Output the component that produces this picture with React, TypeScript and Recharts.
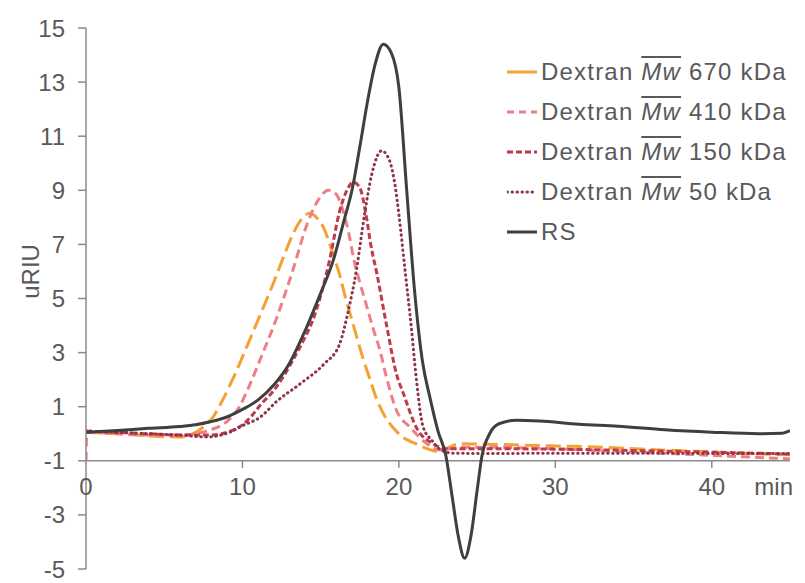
import React from 'react';
import { Legend, Line, LineChart, ReferenceLine, XAxis, YAxis } from 'recharts';

// elution time (min) vs. signal (uRIU)
const xTicks = [0, 10, 20, 30, 40];
const yTicks = [-5, -3, -1, 1, 3, 5, 7, 9, 11, 13, 15];

const dextran670: [number, number][] = [
  [0, 0.05], [2, 0.0], [4, -0.08], [6, -0.12], [7, 0.05], [7.6, 0.3], [8.1, 0.6], [8.6, 1.1],
  [9.2, 1.8], [9.6, 2.3], [10.3, 3.25], [11.1, 4.35], [12, 5.6], [12.6, 6.5], [13.2, 7.35],
  [13.8, 7.95], [14.3, 8.15], [14.8, 7.95], [15.2, 7.6], [15.7, 6.8], [16.2, 5.9], [16.6, 5.0],
  [17.1, 4.0], [17.7, 2.8], [18.1, 2.1], [18.6, 1.25], [19.1, 0.65], [19.6, 0.25], [20.3, -0.15],
  [21, -0.35], [21.8, -0.55], [22.6, -0.67], [23.2, -0.5], [23.9, -0.37], [25, -0.38],
  [27.3, -0.41], [30, -0.45], [33, -0.5], [36, -0.58], [39, -0.65], [42, -0.72], [45, -0.78],
];

const dextran410: [number, number][] = [
  [0, -1], [0.05, 0.05], [2, 0.0], [4, -0.05], [6, -0.05], [7, 0.0], [8, 0.15], [9, 0.45],
  [9.8, 1.0], [10.5, 1.85], [11.1, 2.7], [12.2, 4.3], [13.25, 6.1], [14.1, 7.7], [14.8, 8.6],
  [15.5, 9.0], [16, 8.85], [16.4, 8.3], [16.8, 7.4], [17.1, 6.5], [17.5, 5.6], [17.9, 4.8],
  [18.4, 3.8], [18.8, 3.06], [19.2, 2.1], [19.85, 0.86], [20.7, 0.25], [21.8, -0.37],
  [22.6, -0.6], [24, -0.5], [26, -0.5], [30, -0.56], [34, -0.65], [38, -0.75], [42, -0.85],
  [45, -0.93],
];

const dextran150: [number, number][] = [
  [0, 0.1], [2, 0.05], [4, 0.0], [6, -0.05], [8, -0.05], [9, 0.05], [9.8, 0.25], [10.5, 0.6],
  [11.2, 1.1], [12, 1.6], [12.6, 2.1], [13.3, 2.8], [13.9, 3.45], [14.5, 4.2], [14.95, 5.0],
  [15.6, 6.5], [16.2, 8.2], [16.6, 8.9], [17.1, 9.3], [17.5, 9.1], [17.9, 8.1], [18.2, 7.0],
  [18.6, 5.9], [19.2, 4.05], [19.85, 2.2], [20.3, 1.47], [21.1, 0.25], [22.2, -0.37],
  [23, -0.55], [25, -0.55], [30, -0.57], [35, -0.62], [40, -0.68], [45, -0.75],
];

const dextran50: [number, number][] = [
  [0, 0.1], [2, 0.05], [4, 0.0], [6, -0.05], [7.7, -0.12], [9.2, 0.06], [10, 0.3], [11.1, 0.6],
  [12.2, 1.2], [13.7, 1.85], [15.2, 2.57], [16.2, 3.3], [16.75, 4.5], [17.3, 6.1], [17.8, 8.1],
  [18.25, 9.55], [18.9, 10.46], [19.4, 10.1], [19.75, 9.2], [20.0, 8.1], [20.4, 6.0],
  [20.8, 3.9], [21.1, 2.1], [21.55, 0.25], [22.1, -0.24], [22.7, -0.6], [23.5, -0.72],
  [26, -0.73], [30, -0.72], [35, -0.72], [40, -0.73], [45, -0.73],
];

const rs: [number, number][] = [
  [0, 0.05], [2, 0.12], [4, 0.2], [6, 0.27], [7, 0.33], [8, 0.45], [9, 0.62], [10, 0.9],
  [11, 1.25], [12, 1.8], [13, 2.6], [14, 3.8], [15, 5.2], [15.8, 6.4], [16.5, 7.9], [17, 9.0],
  [17.5, 10.6], [18, 12.3], [18.5, 13.7], [19, 14.4], [19.5, 14.1], [20, 12.8], [20.5, 9.0],
  [21, 5.3], [21.5, 2.7], [22, 1.3], [22.5, 0.1], [23, -0.8], [23.4, -2.3], [23.8, -3.8],
  [24.2, -4.6], [24.6, -3.8], [25, -2.1], [25.3, -0.85], [25.8, 0.0], [26.4, 0.37],
  [27.5, 0.5], [29, 0.47], [31.5, 0.35], [34, 0.28], [37, 0.15], [40, 0.06], [43, 0.0],
  [44.5, 0.02], [45, 0.12],
];

const toRows = (pts: [number, number][]) => pts.map(([t, v]) => ({ t, v }));

const series = [
  { id: 'd670', mw: '670 kDa', data: dextran670, color: '#F5A033', dash: '15 6', legendDash: '', width: 3 },
  { id: 'd410', mw: '410 kDa', data: dextran410, color: '#EE7F86', dash: '9 5', legendDash: '7 5', width: 3 },
  { id: 'd150', mw: '150 kDa', data: dextran150, color: '#BE3A4D', dash: '6 3', legendDash: '6 3', width: 3 },
  { id: 'd50', mw: '50 kDa', data: dextran50, color: '#8E3348', dash: '0.5 4.5', legendDash: '0.5 4.5', width: 3 },
  { id: 'rs', mw: '', data: rs, color: '#3F3F3F', dash: '', legendDash: '', width: 3 },
];

const W = 805;
const H = 583;
const X_AXIS_H = 10;
const MARGIN = { top: 28, right: 15, bottom: 4, left: 0 };
const Y_MIN = -5;
const Y_MAX = 15;
const X_CROSS = -1; // the time axis crosses the signal axis here
const PLOT_H = H - MARGIN.top - MARGIN.bottom - X_AXIS_H;
const AXIS_SHIFT = (PLOT_H * (X_CROSS - Y_MIN)) / (Y_MAX - Y_MIN);

const FONT = '"Liberation Sans", Arial, sans-serif';
const TEXT = '#595959';
const AXIS = '#8a8a8a';

const renderXTick = (props: any) => {
  const { x, y, payload } = props;
  const y0 = y - AXIS_SHIFT;
  return (
    <g>
      {payload.value !== 0 && <line x1={x} x2={x} y1={y0} y2={y0 + 7} stroke={AXIS} strokeWidth={1.5} />}
      <text x={x} y={y0 + 34} textAnchor="middle" fontFamily={FONT} fontSize={24} fill={TEXT}>
        {payload.value}
      </text>
    </g>
  );
};

const LegendBox = () => (
  <div style={{ fontFamily: FONT, fontSize: 24, color: TEXT, lineHeight: 1 }}>
    {series.map((s) => (
      <div key={s.id} style={{ display: 'flex', alignItems: 'center', height: 40 }}>
        <svg width={30} height={12} style={{ flex: 'none' }}>
          <line
            x1={0}
            x2={30}
            y1={6}
            y2={6}
            stroke={s.color}
            strokeWidth={s.width}
            strokeDasharray={s.legendDash || undefined}
            strokeLinecap={s.id === 'd50' ? 'round' : 'butt'}
          />
        </svg>
        <span style={{ marginLeft: 4, letterSpacing: 1.2, whiteSpace: 'nowrap' }}>
          {s.mw ? (
            <>
              Dextran{' '}
              <span style={{ fontStyle: 'italic', textDecoration: 'overline' }}>Mw</span> {s.mw}
            </>
          ) : (
            'RS'
          )}
        </span>
      </div>
    ))}
  </div>
);

export default function App() {
  return (
    <div style={{ position: 'absolute', left: 0, top: 0, width: W, height: H, background: '#fff' }}>
      <LineChart width={W} height={H} margin={MARGIN}>
        <XAxis
          dataKey="t"
          type="number"
          domain={[0, 45]}
          ticks={xTicks}
          interval={0}
          height={X_AXIS_H}
          axisLine={false}
          tickLine={false}
          tickSize={0}
          tickMargin={0}
          tick={renderXTick}
          allowDataOverflow
        />
        <YAxis
          type="number"
          domain={[Y_MIN, Y_MAX]}
          ticks={yTicks}
          interval={0}
          width={86}
          stroke={AXIS}
          strokeWidth={1.5}
          tickSize={8}
          tickMargin={13}
          tick={{ fontFamily: FONT, fontSize: 24, fill: TEXT }}
          label={(p: any) => {
            const vb = p.viewBox;
            const cx = vb.x + 31;
            const cy = vb.y + vb.height * 0.45;
            return (
              <text
                x={cx}
                y={cy}
                transform={`rotate(-90, ${cx}, ${cy})`}
                textAnchor="middle"
                dominantBaseline="central"
                fontFamily={FONT}
                fontSize={24}
                fill={TEXT}
              >
                uRIU
              </text>
            );
          }}
        />
        <ReferenceLine
          y={X_CROSS}
          stroke={AXIS}
          strokeWidth={1.5}
          label={(p: any) => {
            const vb = p.viewBox;
            return (
              <text
                x={vb.x + vb.width + 3}
                y={vb.y + 34}
                textAnchor="end"
                fontFamily={FONT}
                fontSize={24}
                fill={TEXT}
              >
                min
              </text>
            );
          }}
        />
        {series.map((s) => (
          <Line
            key={s.id}
            data={toRows(s.data)}
            dataKey="v"
            name={s.id}
            type="monotone"
            stroke={s.color}
            strokeWidth={s.width}
            strokeDasharray={s.dash || undefined}
            strokeLinecap={s.id === 'd50' ? 'round' : 'butt'}
            dot={false}
            activeDot={false}
            isAnimationActive={false}
          />
        ))}
        <Legend
          layout="horizontal"
          verticalAlign="middle"
          align="center"
          content={LegendBox}
          wrapperStyle={{ left: 507, top: 52, width: 298 }}
        />
      </LineChart>
    </div>
  );
}
